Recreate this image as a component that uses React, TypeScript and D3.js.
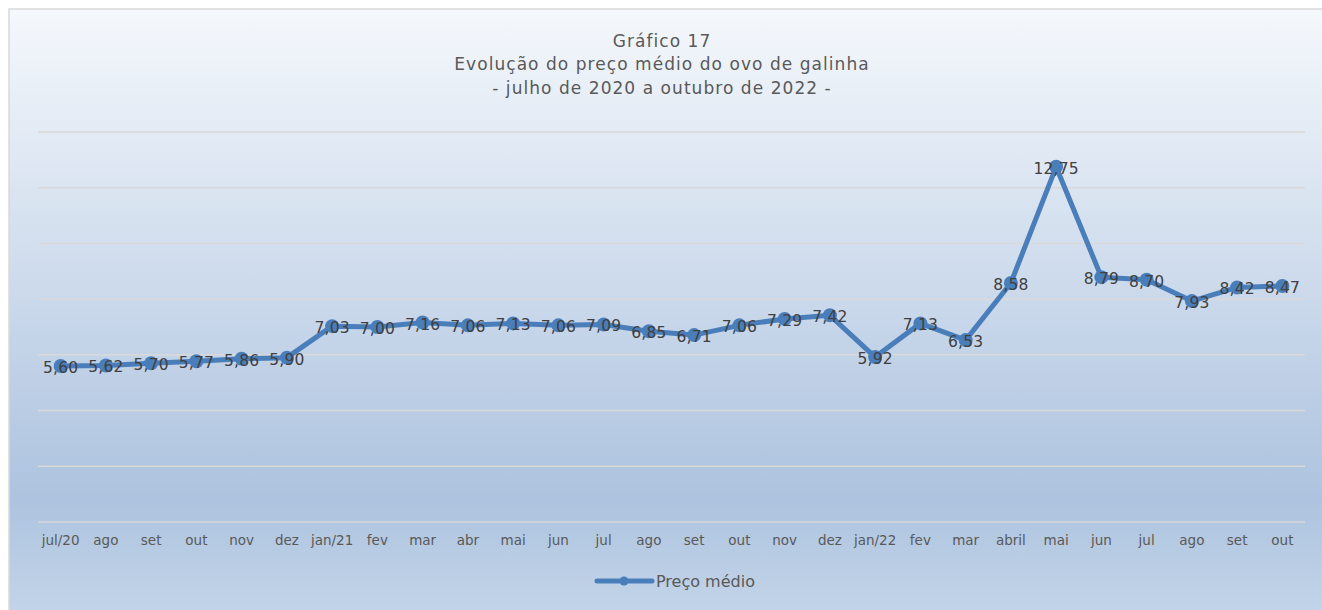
import React from "react";
import * as d3 from "d3";

const categories = ["jul/20","ago","set","out","nov","dez","jan/21","fev","mar","abr","mai","jun","jul","ago","set","out","nov","dez","jan/22","fev","mar","abril","mai","jun","jul","ago","set","out"];
const values = [5.60,5.62,5.70,5.77,5.86,5.90,7.03,7.00,7.16,7.06,7.13,7.06,7.09,6.85,6.71,7.06,7.29,7.42,5.92,7.13,6.53,8.58,12.75,8.79,8.70,7.93,8.42,8.47];
const yTicks = [0,2,4,6,8,10,12,14];
const titleLines = ["Gráfico 17","Evolução do preço médio do ovo de galinha","- julho de 2020 a outubro de 2022 -"];
const seriesName = "Preço médio";

const W = 1322, H = 610;
const left = 38, right = 1305, top = 132, bottom = 522;
const lineColor = "#4a7ebb";
const font = "'DejaVu Sans', Verdana, sans-serif";

export default function App() {
  const x = d3.scaleBand<number>().domain(d3.range(categories.length)).range([left, right]);
  const y = d3.scaleLinear().domain([0, 14]).range([bottom, top]);
  const cx = (i: number) => (x(i) as number) + x.bandwidth() / 2;
  const line = d3.line<number>().x((_, i) => cx(i)).y(d => y(d));
  const fmt = (v: number) => v.toFixed(2).replace(".", ",");
  return (
    <svg width={W} height={H} style={{ position: "absolute", left: 0, top: 0 }}>
      <defs>
        <linearGradient id="bg" x1="0" y1="0" x2="0" y2="1">
          <stop offset="0" stopColor="#f5f8fc" />
          <stop offset="0.79" stopColor="#adc3df" />
          <stop offset="1" stopColor="#c6d7ea" />
        </linearGradient>
      </defs>
      <rect x={0} y={0} width={W} height={H} fill="#ffffff" />
      <rect x={9} y={9} width={W + 10} height={H + 10} fill="url(#bg)" stroke="#d9d9d9" strokeWidth={1.5} />
      {titleLines.map((t, i) => (
        <text key={i} x={662} y={47 + i * 23.3} textAnchor="middle" fontFamily={font} fontSize={17} letterSpacing={1.05} fill="#595959">{t}</text>
      ))}
      {yTicks.map(t => (
        <line key={t} x1={left} x2={right} y1={y(t)} y2={y(t)} stroke="#d9d9d9" strokeWidth={1.5} />
      ))}
      {categories.map((c, i) => (
        <text key={i} x={cx(i)} y={545} textAnchor="middle" fontFamily={font} fontSize={13.5} fill="#595959">{c}</text>
      ))}
      <path d={line(values) || ""} fill="none" stroke={lineColor} strokeWidth={5} strokeLinejoin="round" />
      {values.map((v, i) => (
        <circle key={i} cx={cx(i)} cy={y(v)} r={7} fill={lineColor} />
      ))}
      {values.map((v, i) => (
        <text key={i} x={cx(i)} y={y(v) + 7} textAnchor="middle" fontFamily={font} fontSize={15.5} letterSpacing={0.2} fill="#404040">{fmt(v)}</text>
      ))}
      <line x1={597} x2={652} y1={581} y2={581} stroke={lineColor} strokeWidth={5} strokeLinecap="round" />
      <circle cx={624} cy={581} r={4.5} fill={lineColor} />
      <text x={656} y={587} fontFamily={font} fontSize={16} fill="#595959">{seriesName}</text>
    </svg>
  );
}
